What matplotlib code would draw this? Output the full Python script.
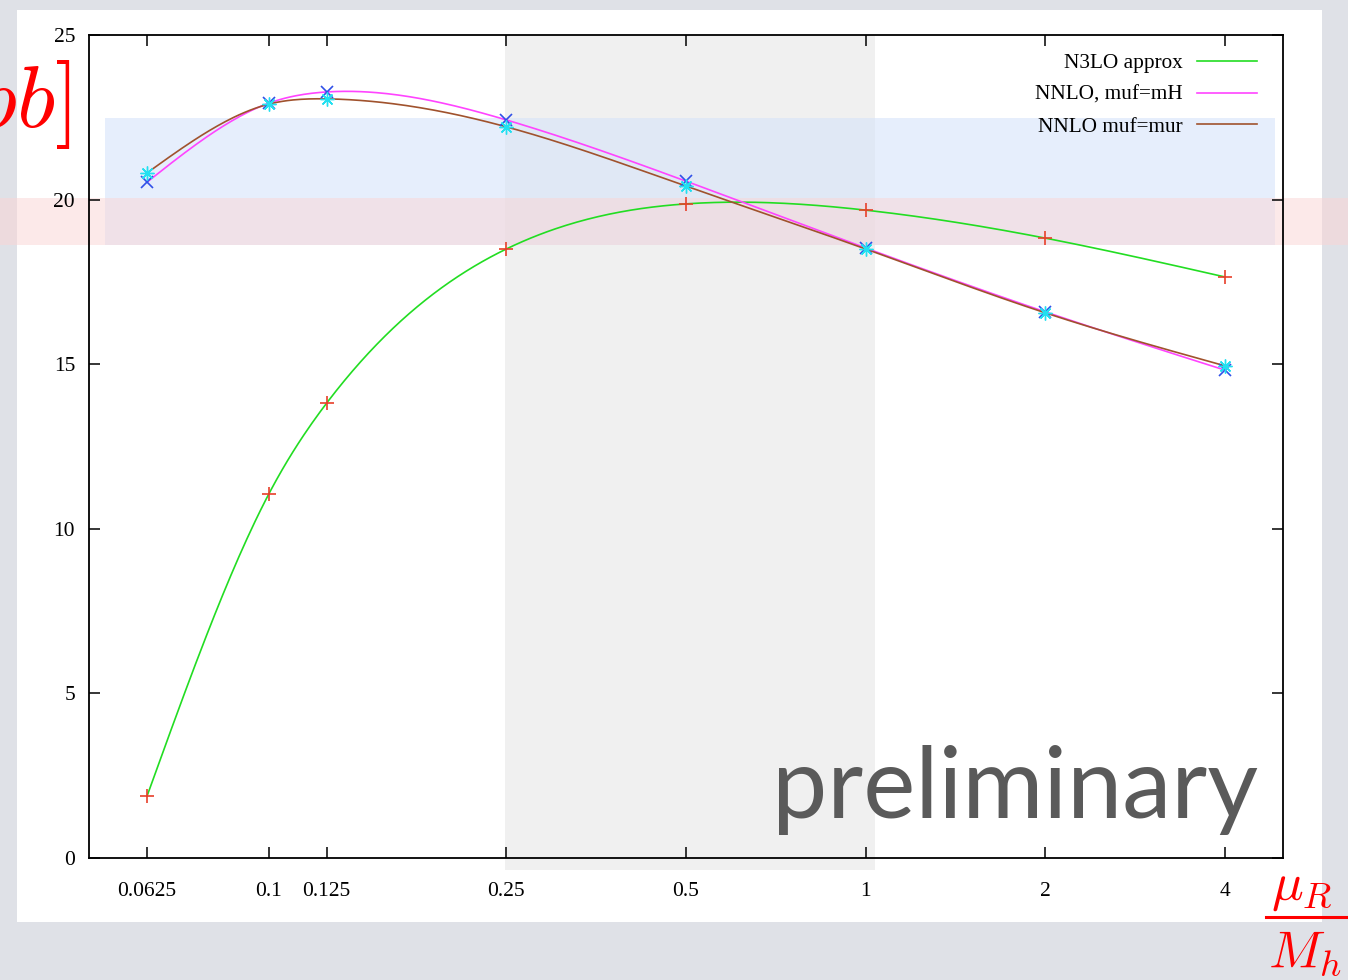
import numpy as np
import matplotlib
matplotlib.use("Agg")
import matplotlib.pyplot as plt
from matplotlib.patches import Rectangle
from matplotlib.lines import Line2D

# scale ratio mu_R / M_h
ratios = [0.0625, 0.1, 0.125, 0.25, 0.5, 1, 2, 4]
tick_labels = ["0.0625", "0.1", "0.125", "0.25", "0.5", "1", "2", "4"]

# cross sections [pb]
n3lo_approx = [1.88, 11.06, 13.82, 18.50, 19.87, 19.68, 18.83, 17.65]
nnlo_muf_mh = [20.53, 22.93, 23.27, 22.42, 20.56, 18.53, 16.59, 14.82]
nnlo_muf_mur = [20.81, 22.90, 23.06, 22.21, 20.41, 18.50, 16.56, 14.95]

W, H = 1348, 980


def natural_spline(x, y, xs):
    """natural cubic spline, like gnuplot 'smooth csplines'"""
    x = np.asarray(x, float)
    y = np.asarray(y, float)
    n = len(x)
    h = np.diff(x)
    A = np.zeros((n, n))
    b = np.zeros(n)
    A[0, 0] = A[-1, -1] = 1
    for i in range(1, n - 1):
        A[i, i - 1] = h[i - 1]
        A[i, i] = 2 * (h[i - 1] + h[i])
        A[i, i + 1] = h[i]
        b[i] = 3 * ((y[i + 1] - y[i]) / h[i] - (y[i] - y[i - 1]) / h[i - 1])
    c = np.linalg.solve(A, b)
    bb = (y[1:] - y[:-1]) / h - h * (2 * c[:-1] + c[1:]) / 3
    d = (c[1:] - c[:-1]) / (3 * h)
    k = np.clip(np.searchsorted(x, xs) - 1, 0, n - 2)
    t = xs - x[k]
    return y[k] + bb[k] * t + c[k] * t ** 2 + d[k] * t ** 3


def px_rect(fig, x0, y0, x1, y1, **kw):
    # rectangle given in pixel coords (origin top left)
    r = Rectangle((x0 / W, 1 - y1 / H), (x1 - x0) / W, (y1 - y0) / H,
                  transform=fig.transFigure, linewidth=0, **kw)
    fig.patches.append(r)


plt.rcParams["mathtext.fontset"] = "cm"

fig = plt.figure(figsize=(W / 100, H / 100), dpi=100)
fig.patch.set_facecolor("#dfe1e7")

# slide background pieces
px_rect(fig, 17, 10, 1322, 922, facecolor="white", zorder=0.1)
px_rect(fig, 505, 35, 875, 870, facecolor="#f0f0f0", zorder=0.2)
px_rect(fig, 105, 118, 1275, 245, facecolor="#d6e4fa", alpha=0.6, zorder=0.3)
px_rect(fig, 0, 198, W, 245, facecolor="#fbd5d5", alpha=0.5, zorder=0.4)

ax = fig.add_axes([89 / W, 1 - 858 / H, (1283 - 89) / W, (858 - 35) / H])
ax.set_zorder(2)
ax.set_facecolor("none")

lx = np.log2(ratios)
xs = np.linspace(lx[0], lx[-1], 400)
series = [
    (n3lo_approx, "N3LO approx", "#22dd22"),
    (nnlo_muf_mh, "NNLO, muf=mH", "#ff44ff"),
    (nnlo_muf_mur, "NNLO muf=mur", "#a0522d"),
]
for vals, label, col in series:
    ax.plot(2 ** xs, natural_spline(lx, vals, xs), color=col, lw=1.2, label=label)

ax.plot(ratios, n3lo_approx, ls="none", marker="+", ms=10, mew=1.2, color="#e8402a")
ax.plot(ratios, nnlo_muf_mh, ls="none", marker="x", ms=9, mew=1.2, color="#3050e8")
ax.plot(ratios, nnlo_muf_mur, ls="none", marker=(8, 2, 0), ms=10, mew=1.0, color="#22e0f0")

ax.set_xscale("log", base=2)
ax.set_xlim(2 ** -4.323, 2 ** 2.323)
ax.set_ylim(0, 25)
ax.set_xticks(ratios)
ax.set_xticklabels(tick_labels)
ax.minorticks_off()
ax.set_yticks([0, 5, 10, 15, 20, 25])

for s in ax.spines.values():
    s.set_linewidth(1.3)
ax.tick_params(direction="in", length=8, width=1.1, top=True, right=True,
               labelsize=15.5, pad=10)
ax.tick_params(axis="x", pad=17)
for lab in ax.get_xticklabels() + ax.get_yticklabels():
    lab.set_family("Liberation Serif")

leg = ax.legend(loc="upper right", bbox_to_anchor=(0.9853, 0.988), borderaxespad=0,
                frameon=False, markerfirst=False, handlelength=2.8,
                prop={"family": "Liberation Serif", "size": 15.3},
                labelspacing=0.56, handletextpad=0.7)

# overlay texts
fig.text(1258 / W, 1 - 818 / H, "preliminary", ha="right", va="baseline",
         fontsize=71, color="#5a5a5a", family="Lato", zorder=5)

fig.text(70 / W, 1 - 127 / H, r"$\sigma\,[pb]$", ha="right", va="baseline",
         fontsize=64, color="red", zorder=5)
fig.text(1271 / W, 1 - 900 / H, r"$\mu_R$", ha="left", va="baseline",
         fontsize=38, color="red", zorder=5)
fig.text(1268 / W, 1 - 968 / H, r"$M_h$", ha="left", va="baseline",
         fontsize=38, color="red", zorder=5)
fig.lines.append(Line2D([1266 / W, 1.0], [1 - 917 / H, 1 - 917 / H],
                        transform=fig.transFigure, color="red", lw=2.2, zorder=5))

fig.savefig("out.png", dpi=100, facecolor=fig.get_facecolor())
